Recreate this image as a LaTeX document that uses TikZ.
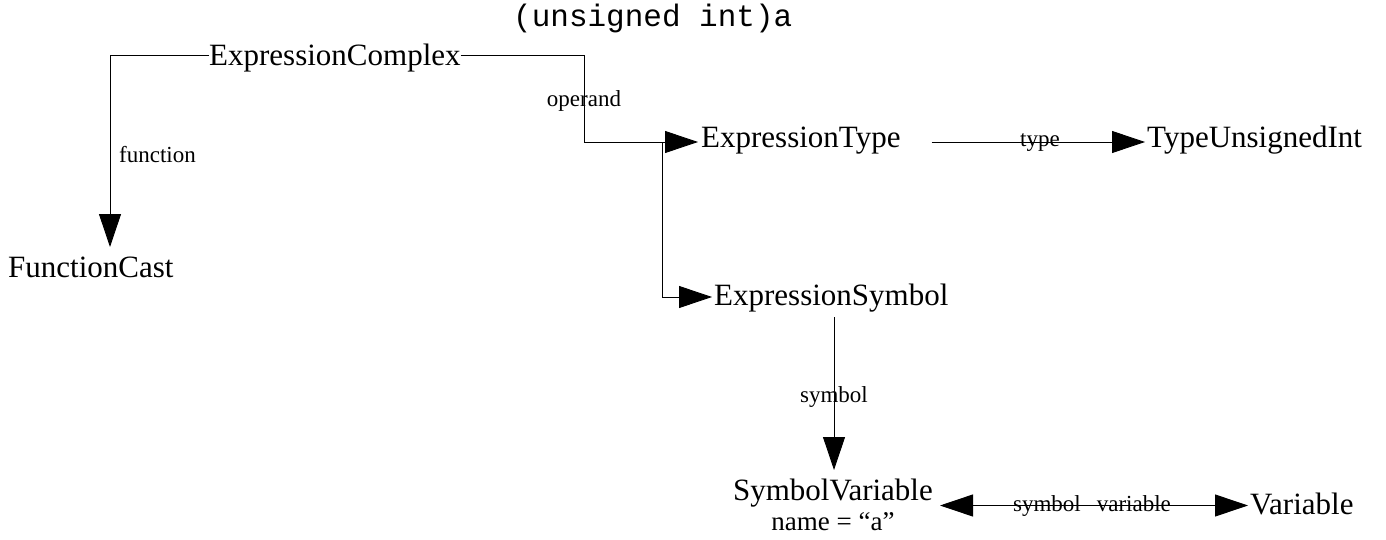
\documentclass[tikz,border=0pt]{standalone}
\usepackage{fontspec}
\setmainfont{Liberation Serif}
\setmonofont{Liberation Mono}
\usetikzlibrary{arrows.meta}
\begin{document}
\begin{tikzpicture}[x=1pt,y=-1pt,
  big/.style={inner sep=0pt, font=\fontsize{31}{30}\selectfont, text height=20.5pt, text depth=0pt},
  lab/.style={inner sep=0pt, font=\fontsize{23}{26}\selectfont, anchor=base},
  conn/.style={line width=0.9pt, draw=black},
  arr/.style={conn, -{Triangle[length=33pt,width=22pt]}},
  darr/.style={conn, {Triangle[length=33pt,width=22pt]}-{Triangle[length=33pt,width=22pt]}}]
\useasboundingbox (0,0) rectangle (1386,540);
% nodes
\node[inner sep=0pt, anchor=base west, font=\ttfamily\fontsize{31}{30}\selectfont] (title) at (513,27) {(unsigned int)a};
\node[big, anchor=west] (ec) at (209,55) {ExpressionComplex};
\node[big, anchor=west] (fc) at (8,267) {FunctionCast};
\node[big, anchor=west] (et) at (701,137) {ExpressionType};
\node[big, anchor=west] (tu) at (1147,137) {TypeUnsignedInt};
\node[big, anchor=west] (es) at (714,295) {ExpressionSymbol};
\node[inner sep=0pt, align=center, anchor=east, font=\fontsize{31}{30}\selectfont] (sv) at (933,505) {SymbolVariable\\{\fontsize{27}{30}\selectfont name = “a”}};
\node[big, anchor=west] (var) at (1250,504) {Variable};
% helper coordinates
\coordinate (fcin) at (110,247);
\coordinate (opA) at (584,55);
\coordinate (opB) at (584,142);
\coordinate (opC) at (662,142);
\coordinate (svin) at (834,470);
% connectors
\draw[arr] (ec.west) -| (fcin);
\draw[arr] (ec.east) -- (opA) -- (opB) -- ([xshift=-3pt,yshift=-5pt]et.west);
\draw[arr] (ec.east) -- (opA) -- (opB) -- (opC) |- ([xshift=-2pt,yshift=-2pt]es.west);
\draw[arr] ([xshift=31pt,yshift=-5pt]et.east) -- ([xshift=-2pt,yshift=-5pt]tu.west);
\draw[arr] ([yshift=-12pt]es.south -| svin) -- (svin);
\draw[darr] ([xshift=7pt,yshift=-1.5pt]sv.east |- var.west) -- ([xshift=-2pt,yshift=-1.5pt]var.west);
% labels
\node[lab] (lop) at (584,107) {operand};
\node[lab, anchor=base west] (lfn) at (119,163) {function};
\node[lab] (lty) at (1040,147) {type};
\node[lab] (lsy) at (834,402) {symbol};
\node[lab] (lsv) at (1092,511) {symbol\hspace{16pt}variable};
\end{tikzpicture}
\end{document}
